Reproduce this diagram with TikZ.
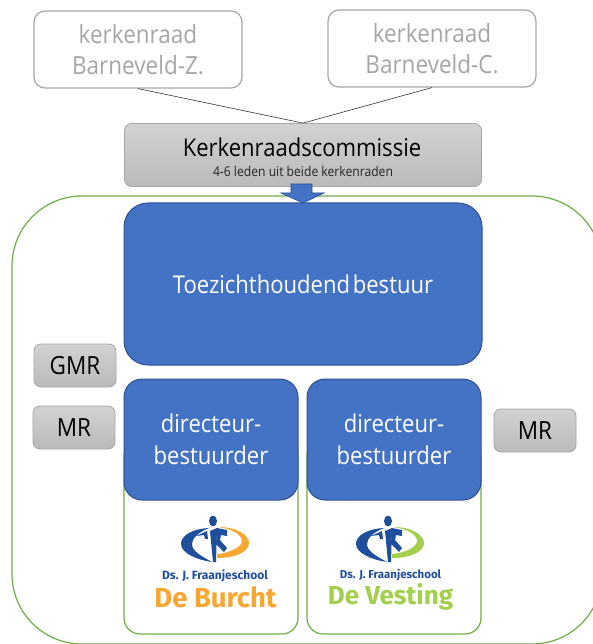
\documentclass[tikz,border=0pt]{standalone}
\usepackage{fontspec}
\setmainfont[FakeStretch=0.9]{Open Sans}
\newfontfamily\logofont{Fira Sans}
\definecolor{blu}{HTML}{4472C4}
\definecolor{bludark}{HTML}{2F528F}
\definecolor{grn}{HTML}{70AD47}
\definecolor{gry}{HTML}{A6A6A6}
\definecolor{gtop}{HTML}{D2D2D2}
\definecolor{gbot}{HTML}{BABABA}
\definecolor{logoblue}{HTML}{1F4E9C}
\definecolor{logoorange}{HTML}{F9A633}
\definecolor{logogreen}{HTML}{A4CF4C}
\tikzset{
 x=1pt,y=-1pt,
 ghost/.style={draw=gry,line width=1.2pt,rounded corners=11pt,fill=white,text=gry,align=center,font=\fontsize{25}{30.5}\selectfont,inner sep=0pt},
 bluebox/.style={draw=bludark,line width=1pt,fill=blu,text=white,align=center,inner sep=0pt},
 graybox/.style={draw=gry,line width=.8pt,rounded corners=7pt,top color=gtop,bottom color=gbot,text=black,align=center,inner sep=0pt,font=\fontsize{25}{30}\selectfont},
 greenbox/.style={draw=grn,line width=1.2pt,inner sep=0pt,fill=white},
 link/.style={draw=black!80,line width=.6pt},
}
\newcommand{\schoollogo}[3]{%
 \begin{scope}[shift={(#1,#2)}]
  \fill[logoblue] (-6,-13) .. controls (-24,-12) and (-34,-5) .. (-34,3) .. controls (-34,12) and (-18,19) .. (-3,21) .. controls (-14,15) and (-23,10) .. (-23,3) .. controls (-23,-3) and (-16,-9) .. (-6,-13) -- cycle;
  \fill[#3] (3,-14) .. controls (22,-14) and (34,-6) .. (34,2) .. controls (34,11) and (20,17) .. (2,17) -- (2,13) .. controls (15,12) and (27,6) .. (27,0) .. controls (27,-6) and (18,-12) .. (3,-14) -- cycle;
  \fill[logoblue] (-2,-20) ellipse (4 and 5.5);
  \fill[logoblue] (-5,-10) -- (2,-13) -- (1,21) -- (-2,21) -- cycle;
  \fill[logoblue] (2,-13) -- (12,-11) -- (12,-5) -- (6,-6) -- (5,-1) -- (12,7) -- (9,11) -- (1,3) -- cycle;
  \fill[logoblue] (-19,-5) -- (-8,-10) -- (-7,-2) -- (-10,-2) -- (-11,-6) -- cycle;
 \end{scope}}
\begin{document}
\begin{tikzpicture}
\useasboundingbox (0,0) rectangle (593,644);
\fill[white] (0,0) rectangle (593,644);
\begin{scope}
\clip (0,0) rectangle (593,644);
\node[greenbox,rounded corners=70pt,minimum width=590pt,minimum height=448pt] (org) at (307,420) {};
\end{scope}
\node[greenbox,rounded corners=16pt,minimum width=174pt,minimum height=194pt] (schoolA) at (211,537) {};
\node[greenbox,rounded corners=16pt,minimum width=174pt,minimum height=194pt] (schoolB) at (394,537) {};
\node[ghost,minimum width=208pt,minimum height=77pt] (kz) at (138,49.5) {kerkenraad\\Barneveld-Z.};
\node[ghost,minimum width=208pt,minimum height=77pt] (kc) at (432,48.5) {kerkenraad\\Barneveld-C.};
\node[graybox,minimum width=357pt,minimum height=63pt] (kc2) at (303,155) {};
\node[font=\fontsize{24.5}{28}\selectfont] (kctitle) at (302,147) {Kerkenraadscommissie};
\node[font=\fontsize{13.5}{15}\selectfont,text=black!85] (kcsub) at (303,171) {4-6 leden uit beide kerkenraden};
\draw[link] (kz.south) -- (kc2.north);
\draw[link] (kc.south) -- (kc2.north);
\node[bluebox,rounded corners=24pt,minimum width=358pt,minimum height=162pt,font=\fontsize{24.5}{28}\selectfont] (tb) at (303,284) {Toezichthoudend\hspace{-.12em} bestuur};
\draw[draw=bludark,fill=blu,line width=.7pt] (291,184) -- (312,184) -- (312,193) -- (324,193) -- (303,203) -- (281,193) -- (291,193) -- cycle;
\node[bluebox,rounded corners=18pt,minimum width=174pt,minimum height=121pt,font=\fontsize{24.5}{32}\selectfont] (d1) at (211,439.5) {directeur-\\bestuurder};
\node[bluebox,rounded corners=18pt,minimum width=174pt,minimum height=121pt,font=\fontsize{24.5}{32}\selectfont] (d2) at (394,439.5) {directeur-\\bestuurder};
\node[graybox,minimum width=82pt,minimum height=43pt] (gmr) at (75,365.5) {GMR};
\node[graybox,minimum width=82pt,minimum height=43pt] (mr1) at (74,427.5) {MR};
\node[graybox,minimum width=82pt,minimum height=43pt] (mr2) at (535,430.5) {MR};
\schoollogo{215}{541}{logoorange}
\schoollogo{390}{541}{logogreen}
\node[font=\logofont\bfseries\fontsize{12}{14}\selectfont,text=logoblue] (a1) at (215,576) {Ds. J. Fraanjeschool};
\node[font=\logofont\bfseries\fontsize{27.5}{30}\selectfont,text=logoorange] (a2) at (215.5,597) {De Burcht};
\node[font=\logofont\bfseries\fontsize{11.5}{14}\selectfont,text=logoblue] (b1) at (390.5,575) {Ds. J. Fraanjeschool};
\node[font=\logofont\bfseries\fontsize{26}{30}\selectfont,text=logogreen] (b2) at (390.5,597) {De Vesting};
\end{tikzpicture}
\end{document}
